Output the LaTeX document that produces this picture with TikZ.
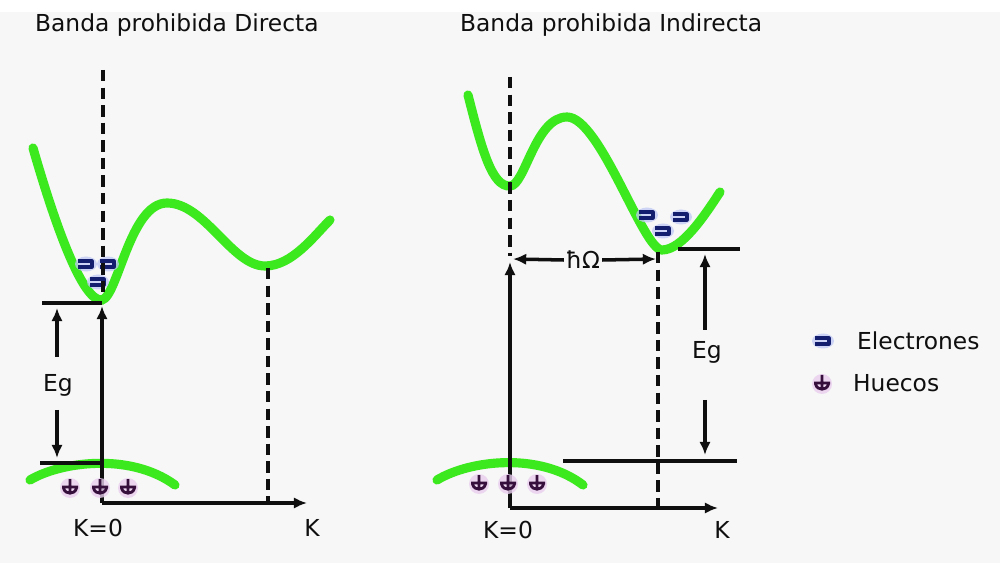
\documentclass[tikz,border=0pt]{standalone}
\usepackage{fontspec}
\setmainfont{DejaVu Sans}
\usetikzlibrary{arrows.meta}
\definecolor{bandgreen}{RGB}{60,232,30}
\definecolor{bgc}{RGB}{247,247,247}
\definecolor{ink}{RGB}{15,15,15}
\definecolor{elec}{RGB}{20,30,110}
\definecolor{elechalo}{RGB}{190,200,245}
\definecolor{holec}{RGB}{55,15,60}
\definecolor{holehalo}{RGB}{232,205,238}
\begin{document}
\begin{tikzpicture}[x=0.02cm,y=-0.02cm,
  band/.style={draw=bandgreen,line width=5.2pt,line cap=round},
  blk/.style={draw=ink,line width=2pt},
  dsh/.style={blk,dash pattern=on 6.5pt off 3.5pt},
  arr/.style={blk,-{Latex[length=7.5pt,width=6.5pt]}},
  lbl/.style={font=\fontsize{13.3}{15}\selectfont,text=ink,inner sep=1pt},
  pics/electron/.style={code={
    \fill[elechalo,opacity=0.75] (0,0) ellipse (11 and 7.5);
    \draw[elec,line width=1.8pt,line join=round] (-8,-3) -- (6,-3) -- (6,3) -- (-8,3);}},
  pics/holep/.style={code={
    \fill[holehalo,opacity=0.8] (0,1) circle (10);
    \draw[holec,line width=1.6pt] (-8,0) -- (8,0) (0,-8) -- (0,7)
      (-6.5,1) .. controls (-5,8) and (5,8) .. (6.5,1);}}
]
\useasboundingbox (0,0) rectangle (1000,563);
\fill[bgc] (0,0) rectangle (1000,563);
\fill[white] (0,0) rectangle (1000,12);

% titles
\node[lbl,anchor=west] (t1) at (33,25) {Banda prohibida Directa};
\node[lbl,anchor=west] (t2) at (458,25) {Banda prohibida Indirecta};

% ---------------- left: direct ----------------
\coordinate (LO) at (102,503);
\coordinate (LX) at (307,503);
\coordinate (LMin) at (102,300);
\coordinate (LTip) at (102,306);
\coordinate (LDtop) at (103,70);
\coordinate (LDbot) at (103,296);
\coordinate (L2top) at (268,268);
\coordinate (L2bot) at (268,503);
\coordinate (LHa) at (42,303);
\coordinate (LHb) at (102,303);
\coordinate (LLa) at (40,463);
\coordinate (LLb) at (100,463);
\coordinate (LEu1) at (57,357);
\coordinate (LEu2) at (57,308);
\coordinate (LEd1) at (57,410);
\coordinate (LEd2) at (57,458);

\draw[band] (33,148) .. controls (58,235) and (84,302) .. (LMin)
  .. controls (118,296) and (130,203) .. (167,203)
  .. controls (205,203) and (232,266) .. (265,266)
  .. controls (292,266) and (314,236) .. (330,220);
\draw[band] (30,480) .. controls (60,462) and (130,452) .. (175,485);

\pic at (86,264) {electron};
\pic at (108,264) {electron};
\pic at (98,282) {electron};

\draw[dsh] (LDtop) -- (LDbot);
\draw[arr] (LO) -- (LTip);
\draw[arr] (LO) -- (LX);
\draw[dsh] (L2top) -- (L2bot);
\draw[blk] (LHa) -- (LHb);
\draw[blk] (LLa) -- (LLb);
\node[lbl] (LEg) at (58,385) {Eg};
\draw[arr] (LEu1) -- (LEu2);
\draw[arr] (LEd1) -- (LEd2);

\pic at (70,487) {holep};
\pic at (100,487) {holep};
\pic at (128,487) {holep};

\node[lbl] (LK0) at (98,528) {K=0};
\node[lbl] (LK) at (312,528) {K};

% ---------------- right: indirect ----------------
\coordinate (RO) at (510,508);
\coordinate (RX) at (718,508);
\coordinate (RTip) at (510,262);
\coordinate (RDtop) at (510,77);
\coordinate (RDbot) at (510,256);
\coordinate (R2top) at (658,252);
\coordinate (R2bot) at (658,508);
\coordinate (RHa) at (678,249);
\coordinate (RHb) at (740,249);
\coordinate (RLa) at (563,461);
\coordinate (RLb) at (737,461);
\coordinate (RWl) at (513,259);
\coordinate (RWr) at (656,259);
\coordinate (REu1) at (705,330);
\coordinate (REu2) at (705,254);
\coordinate (REd1) at (705,400);
\coordinate (REd2) at (705,455);

\draw[band] (468,95) .. controls (482,150) and (492,187) .. (510,186)
  .. controls (525,186) and (535,117) .. (567,117)
  .. controls (600,117) and (643,250) .. (662,250)
  .. controls (682,250) and (705,215) .. (720,192);
\draw[band] (437,480) .. controls (470,460) and (540,452) .. (583,485);

\pic at (647,215) {electron};
\pic at (681,217) {electron};
\pic at (663,231) {electron};

\draw[dsh] (RDtop) -- (RDbot);
\draw[arr] (RO) -- (RTip);
\draw[arr] (RO) -- (RX);
\draw[dsh] (R2top) -- (R2bot);
\draw[blk] (RHa) -- (RHb);
\draw[blk] (RLa) -- (RLb);
\node[lbl] (RW) at (583,260) {ħΩ};
\draw[arr] (RW.west) -- (RWl);
\draw[arr] (RW.east) -- (RWr);
\node[lbl] (REg) at (707,352) {Eg};
\draw[arr] (REu1) -- (REu2);
\draw[arr] (REd1) -- (REd2);

\pic at (479,483) {holep};
\pic at (508,483) {holep};
\pic at (537,483) {holep};

\node[lbl] (RK0) at (508,530) {K=0};
\node[lbl] (RK) at (722,530) {K};

% ---------------- legend ----------------
\pic at (823,341) {electron};
\node[lbl,anchor=west] (LgE) at (855,341) {Electrones};
\pic at (822,383) {holep};
\node[lbl,anchor=west] (LgH) at (851,383) {Huecos};
\end{tikzpicture}
\end{document}
